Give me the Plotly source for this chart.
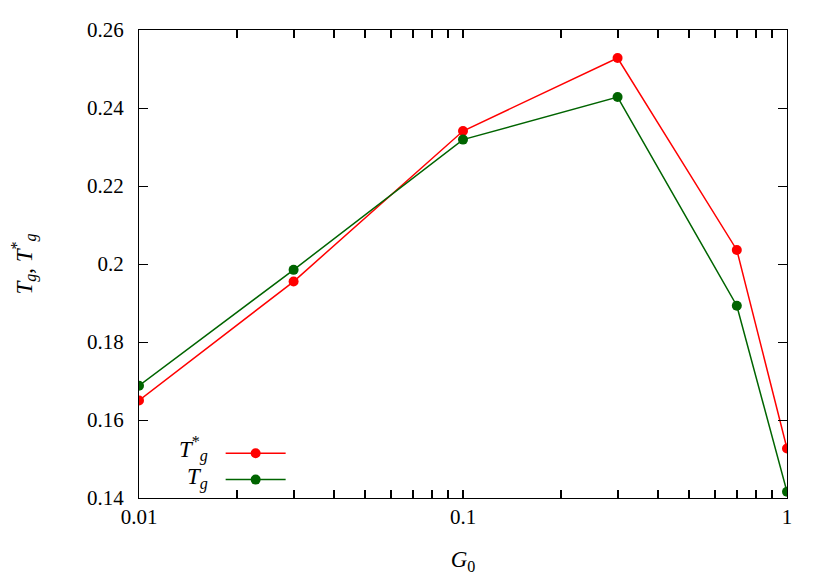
import plotly.graph_objects as go

# data
g0 = [0.01, 0.03, 0.1, 0.3, 0.7, 1.0]
tg_star = [0.1650, 0.1955, 0.2341, 0.2528, 0.2036, 0.1527]
tg = [0.1688, 0.1985, 0.2319, 0.2428, 0.1893, 0.1416]

y_ticks = [0.14, 0.16, 0.18, 0.2, 0.22, 0.24, 0.26]
y_labels = ["0.14", "0.16", "0.18", "0.2", "0.22", "0.24", "0.26"]
x_ticks = [0.01, 0.1, 1]
x_labels = ["0.01", "0.1", "1"]
x_minor = [k * 0.01 for k in range(2, 10)] + [k * 0.1 for k in range(2, 10)]

FONT = "Liberation Serif"

fig = go.Figure()
fig.add_trace(go.Scatter(
    x=g0, y=tg_star, mode="lines+markers", name=" ",
    line=dict(color="#ff0000", width=1.5),
    marker=dict(color="#ff0000", size=10),
))
fig.add_trace(go.Scatter(
    x=g0, y=tg, mode="lines+markers", name=" ",
    line=dict(color="#006400", width=1.5),
    marker=dict(color="#006400", size=10),
))

axis_common = dict(
    showgrid=False, zeroline=False, showline=True, linecolor="black",
    linewidth=1.3, mirror="ticks", ticks="inside",
    tickcolor="black", tickfont=dict(family=FONT, size=21, color="black"),
)

# the page body adds an 8px offset, so margins are trimmed to match
fig.update_layout(
    width=830, height=581,
    margin=dict(l=131, r=51, t=22, b=91),
    plot_bgcolor="white", paper_bgcolor="white",
    font=dict(family=FONT, color="black"),
    showlegend=True,
    legend=dict(
        x=0.126, y=0.0, xanchor="left", yanchor="bottom",
        bgcolor="rgba(0,0,0,0)", font=dict(size=18), tracegroupgap=0,
        itemwidth=60,
    ),
    xaxis=dict(
        type="log", range=[-2, 0],
        tickvals=x_ticks + x_minor, ticktext=x_labels + [""] * len(x_minor),
        ticklen=8, tickwidth=1.5,
        title=dict(text="<i>G</i><sub>0</sub>", font=dict(family=FONT, size=23), standoff=22),
        **axis_common,
    ),
    yaxis=dict(
        range=[0.14, 0.26], tickvals=y_ticks, ticktext=y_labels, ticklabelstandoff=10,
        ticklen=9, automargin=False,
        title=dict(text="<i>T</i><sub><i>g</i></sub>, <i>T</i><sup>*</sup><sub><i>g</i></sub>",
                   font=dict(family=FONT, size=23), standoff=55),
        **axis_common,
    ),
)

# legend labels sit to the left of the sample lines, gnuplot style
fig.add_annotation(xref="paper", yref="paper", x=0.11, y=0.066, xanchor="right",
                   text="<i>T</i><sup>*</sup><sub><i>g</i></sub>", showarrow=False,
                   font=dict(family=FONT, size=23))
fig.add_annotation(xref="paper", yref="paper", x=0.11, y=0.006, xanchor="right",
                   text="<i>T</i><sub><i>g</i></sub>", showarrow=False,
                   font=dict(family=FONT, size=23))

fig.write_html("out.html")
